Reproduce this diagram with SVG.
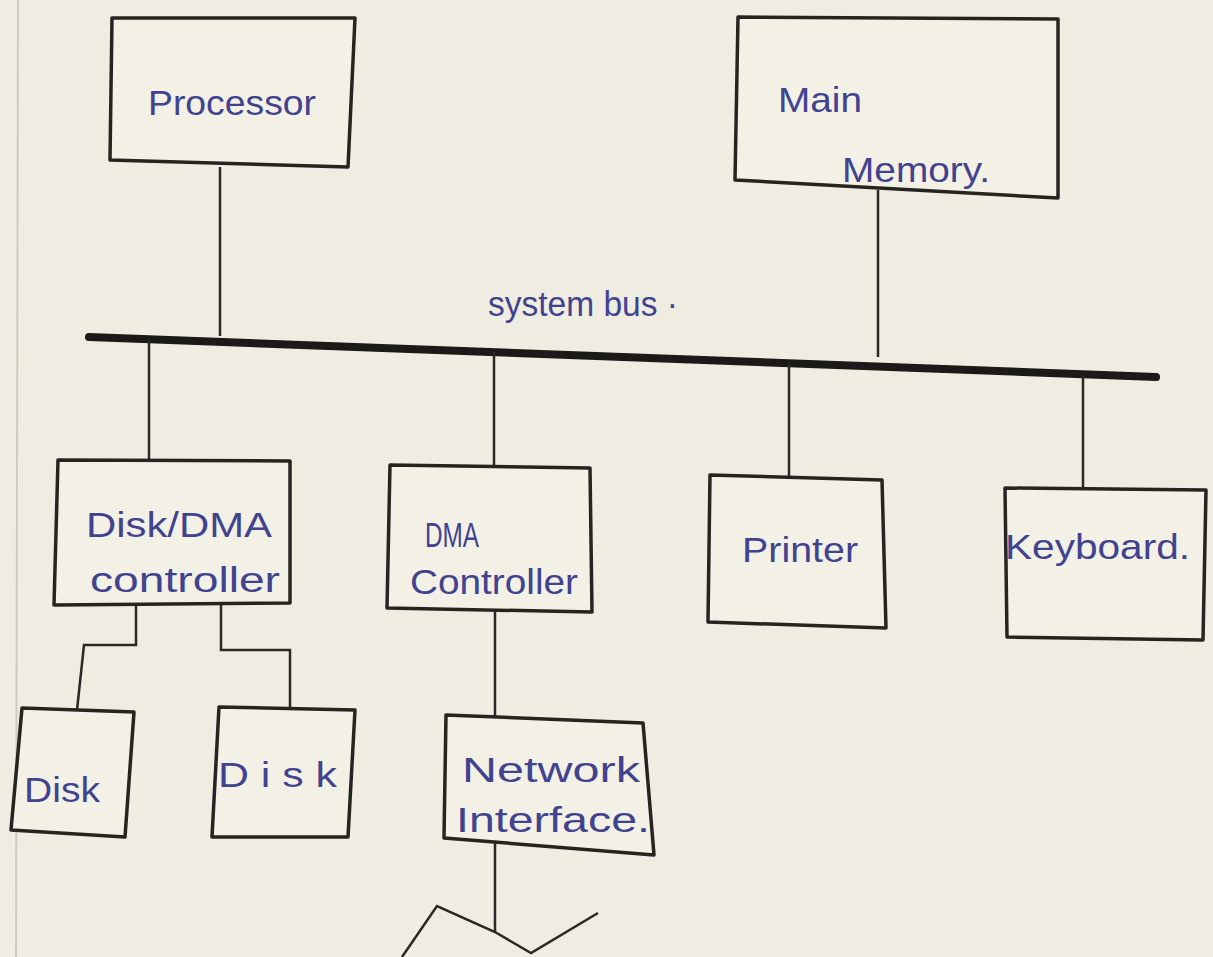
<svg xmlns="http://www.w3.org/2000/svg" width="1213" height="957" viewBox="0 0 1213 957">
<style>
.box{fill:#f3f0e6;stroke:#262420;stroke-width:3.5;stroke-linejoin:round}
.ln{fill:none;stroke:#2a2824;stroke-width:2.5}
.lbl{font-family:"Liberation Sans",Arial,sans-serif;font-size:35px;fill:#41438f}
</style>
<rect x="0" y="0" width="1213" height="957" fill="#efece2"/>
<line x1="18" y1="0" x2="16" y2="957" stroke="#cfcbc0" stroke-width="2"/>
<g id="connectors">
<path class="ln" d="M220 167 V336"/>
<path class="ln" d="M878 190 V357"/>
<path d="M89 337 L1156 377" stroke="#1c1a18" stroke-width="8" fill="none" stroke-linecap="round"/>
<path class="ln" d="M149 340 V460"/>
<path class="ln" d="M494 352 V466"/>
<path class="ln" d="M789 364 V476"/>
<path class="ln" d="M1083 375 V490"/>
<path class="ln" d="M136 603 V645 H84 L77 710" stroke-width="4"/>
<path class="ln" d="M221 603 V650 H290 V708" stroke-width="3"/>
<path class="ln" d="M495 612 V716"/>
<path class="ln" d="M495 843 V932"/>
<path class="ln" d="M402 957 L437 906 L495 932 L531 953 L598 913"/>
</g>
<g id="processor">
<path class="box" d="M112 18 L355 18 L348 167 L110 160 Z"/>
<text class="lbl" x="148" y="115" textLength="168" lengthAdjust="spacingAndGlyphs">Processor</text>
</g>
<g id="main-memory">
<path class="box" d="M738 17 L1058 19 L1058 198 L735 180 Z"/>
<text class="lbl" x="778" y="112" textLength="84" lengthAdjust="spacingAndGlyphs">Main</text>
<text class="lbl" x="842" y="182" textLength="148" lengthAdjust="spacingAndGlyphs">Memory.</text>
</g>
<g id="system-bus">
<text class="lbl" x="488" y="316" textLength="190" lengthAdjust="spacingAndGlyphs">system bus ·</text>
</g>
<g id="disk-dma-controller">
<path class="box" d="M58 460 L290 461 L290 603 L54 605 Z"/>
<text class="lbl" x="86" y="537" textLength="186" lengthAdjust="spacingAndGlyphs">Disk/DMA</text>
<text class="lbl" x="90" y="592" textLength="190" lengthAdjust="spacingAndGlyphs">controller</text>
</g>
<g id="dma-controller">
<path class="box" d="M390 465 L590 468 L592 612 L387 608 Z"/>
<text class="lbl" x="425" y="547" textLength="54" lengthAdjust="spacingAndGlyphs">DMA</text>
<text class="lbl" x="410" y="594" textLength="168" lengthAdjust="spacingAndGlyphs">Controller</text>
</g>
<g id="printer">
<path class="box" d="M710 475 L882 480 L886 628 L708 622 Z"/>
<text class="lbl" x="742" y="562" textLength="116" lengthAdjust="spacingAndGlyphs">Printer</text>
</g>
<g id="keyboard">
<path class="box" d="M1005 488 L1206 490 L1203 640 L1007 637 Z"/>
<text class="lbl" x="1005" y="559" textLength="185" lengthAdjust="spacingAndGlyphs">Keyboard.</text>
</g>
<g id="disk-1">
<path class="box" d="M22 708 L134 712 L125 837 L11 830 Z"/>
<text class="lbl" x="24" y="802" textLength="76" lengthAdjust="spacingAndGlyphs">Disk</text>
</g>
<g id="disk-2">
<path class="box" d="M219 707 L355 710 L348 837 L212 837 Z"/>
<text class="lbl" x="218" y="787" textLength="119" lengthAdjust="spacingAndGlyphs">D i s k</text>
</g>
<g id="network-interface">
<path class="box" d="M446 715 L643 723 L654 855 L444 838 Z"/>
<text class="lbl" x="462" y="782" textLength="178" lengthAdjust="spacingAndGlyphs">Network</text>
<text class="lbl" x="456" y="832" textLength="194" lengthAdjust="spacingAndGlyphs">Interface.</text>
</g>
</svg>
